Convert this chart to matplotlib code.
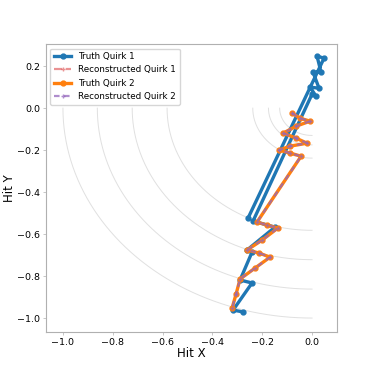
import numpy as np
import matplotlib
matplotlib.use("Agg")
import matplotlib.pyplot as plt

# detector layer radii (drawn as quarter arcs)
layer_r = [0.13, 0.175, 0.238, 0.582, 0.722, 0.862, 1.0]

# truth quirk 1 hits
truth1_x = [-0.257, 0.048, 0.020, 0.036, 0.004, 0.028, -0.008, 0.016, 0.000,
            -0.237, -0.149, -0.261, -0.241, -0.289, -0.241, -0.317, -0.277]
truth1_y = [-0.524, 0.238, 0.248, 0.171, 0.171, 0.095, 0.100, 0.057, 0.067,
            -0.538, -0.567, -0.676, -0.686, -0.819, -0.833, -0.962, -0.971]

# reconstructed quirk 1 (nothing reconstructed)
reco1_x = []
reco1_y = []

# truth quirk 2 hits
truth2_x = [-0.080, -0.048, -0.008, -0.064, -0.116, -0.064, -0.020, -0.088,
            -0.133, -0.088, -0.044, -0.221, -0.181, -0.137, -0.201, -0.261,
            -0.213, -0.169, -0.229, -0.289, -0.305, -0.321]
truth2_y = [-0.024, -0.048, -0.062, -0.086, -0.119, -0.143, -0.167, -0.181,
            -0.200, -0.214, -0.229, -0.543, -0.557, -0.571, -0.629, -0.676,
            -0.690, -0.710, -0.762, -0.814, -0.886, -0.952]

# reconstructed quirk 2 hits
reco2_x = list(truth2_x)
reco2_y = list(truth2_y)

fig = plt.figure(figsize=(3.74, 3.74), dpi=100)
ax = fig.add_axes([0.123, 0.112, 0.778, 0.770])

t = np.linspace(np.pi, 1.5 * np.pi, 200)
for r in layer_r:
    ax.plot(r * np.cos(t), r * np.sin(t), color='#e0e0e0', lw=0.7, zorder=1)

ax.plot(truth1_x, truth1_y, '-', marker='o', ms=3.5, lw=2.4, color='tab:blue',
        label='Truth Quirk 1', zorder=2)
ax.plot(reco1_x, reco1_y, '--', marker='+', ms=3.5, lw=1.6, color='tab:red',
        alpha=0.5, label='Reconstructed Quirk 1', zorder=3)
ax.plot(truth2_x, truth2_y, '-', marker='o', ms=3.5, lw=2.4, color='tab:orange',
        label='Truth Quirk 2', zorder=4)
ax.plot(reco2_x, reco2_y, '--', marker='+', ms=3.5, lw=1.6, color='tab:purple',
        alpha=0.75, dashes=(2.5, 2), label='Reconstructed Quirk 2', zorder=5)

ax.set_xlim(-1.068, 0.10)
ax.set_ylim(-1.067, 0.305)
ax.set_xticks([-1.0, -0.8, -0.6, -0.4, -0.2, 0.0])
ax.set_yticks([-1.0, -0.8, -0.6, -0.4, -0.2, 0.0, 0.2])
ax.tick_params(labelsize=6.8, length=2, width=0.5, color='#b0b0b0', pad=2)
for s in ax.spines.values():
    s.set_color('#b0b0b0')
    s.set_linewidth(0.8)
ax.set_xlabel('Hit X', fontsize=8.5, labelpad=0)
ax.set_ylabel('Hit Y', fontsize=8.5, labelpad=1)
ax.legend(loc='upper left', fontsize=6.3, framealpha=0.8, edgecolor='#cccccc')

fig.savefig('out.png', dpi=100)
